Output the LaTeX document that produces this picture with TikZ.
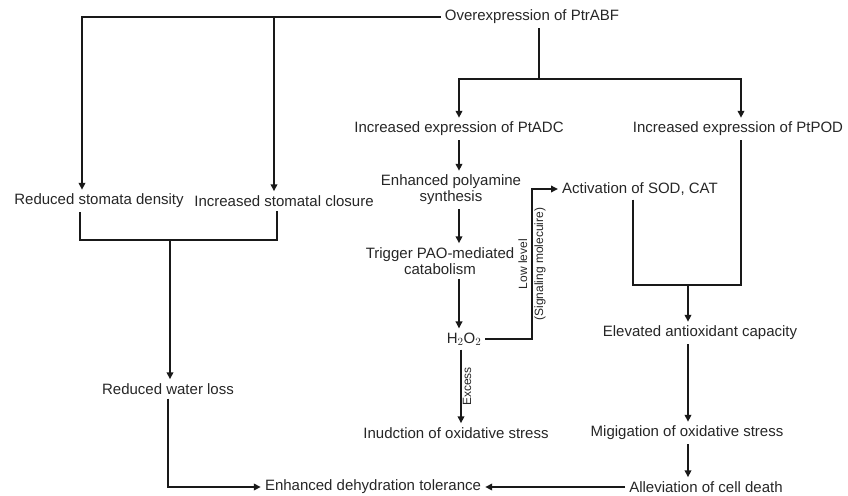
\documentclass[tikz,border=0pt]{standalone}
\usepackage{fontspec}
\setmainfont{Liberation Sans}
\usetikzlibrary{arrows.meta}

\begin{document}
\begin{tikzpicture}[
    x=1pt, y=-1pt,
    txt/.style={inner sep=4pt, align=center, font=\fontsize{15}{16}\selectfont, text=black!85},
    lab/.style={inner sep=1pt, align=center, font=\fontsize{12}{16}\selectfont, text=black!85},
    line/.style={line width=1.8pt, black!90},
    arr/.style={line, -{Triangle[length=7pt, width=6.5pt]}}
]
\useasboundingbox (0,0) rectangle (848,495);

% nodes
\node[txt] (top) at (532,17) {Overexpression of PtrABF};
\node[txt] (rsd) at (99,201) {Reduced stomata density};
\node[txt] (isc) at (284,201) {Increased stomatal closure};
\node[txt] (rwl) at (168,389) {Reduced water loss};
\node[txt] (edt) at (373,487) {Enhanced dehydration tolerance};
\node[txt] (adc) at (459,129) {Increased expression of PtADC};
\node[txt] (pod) at (738,129) {Increased expression of PtPOD};
\node[txt] (eps) at (451,190) {Enhanced polyamine\\synthesis};
\node[txt] (pao) at (440,261) {Trigger PAO-mediated\\catabolism};
\node[txt] (h2o) at (464,339) {H$_2$O$_2$};
\node[txt] (ios) at (456,433) {Inudction of oxidative stress};
\node[txt] (sod) at (640,189) {Activation of SOD, CAT};
\node[txt] (eac) at (700,333) {Elevated antioxidant capacity};
\node[txt] (mos) at (687,433) {Migigation of oxidative stress};
\node[txt] (acd) at (706,487) {Alleviation of cell death};

% junctions
\coordinate (split) at (539,79);
\coordinate (join) at (170,240);
\coordinate (low) at (532,339);
\coordinate (merge) at (688,285);

% left branch
\draw[arr] (top.west) -| ([xshift=-17pt]rsd.north);
\draw[arr] ([xshift=-10pt]isc.north |- top.west) -- ([xshift=-10pt]isc.north);
\draw[line] ([xshift=-19pt]rsd.south) |- (join) -| ([xshift=-7pt]isc.south);
\draw[arr] (join) -- (join |- rwl.north);
\draw[arr] (rwl.south) |- (edt.west);

% right branch
\draw[line] ([xshift=7pt]top.south) -- (split);
\draw[arr] (split) -| (adc.north);
\draw[arr] (split) -| ([xshift=3pt]pod.north);
\draw[arr] (adc.south) -- (adc.south |- eps.north);
\draw[arr] (adc.south |- eps.south) -- (adc.south |- pao.north);
\draw[arr] (adc.south |- pao.south) -- (adc.south |- h2o.north);
\draw[arr] ([xshift=-3pt]h2o.south) -- ([xshift=-3pt]h2o.south |- ios.north)
    node[midway, lab, rotate=90, anchor=north] {Excess};
\draw[arr] (h2o.east) -- (low) |- node[pos=0.25, lab, rotate=90] {Low level\\(Signaling molecuire)} (sod.west);
\draw[line] ([xshift=-7pt]sod.south) |- ([xshift=3pt]pod.south |- merge) -- ([xshift=3pt]pod.south);
\draw[arr] (merge) -- (merge |- eac.north);
\draw[arr] (merge |- eac.south) -- (merge |- mos.north);
\draw[arr] (merge |- mos.south) -- (merge |- acd.north);
\draw[arr] (acd.west) -- (edt.east);
\end{tikzpicture}
\end{document}
